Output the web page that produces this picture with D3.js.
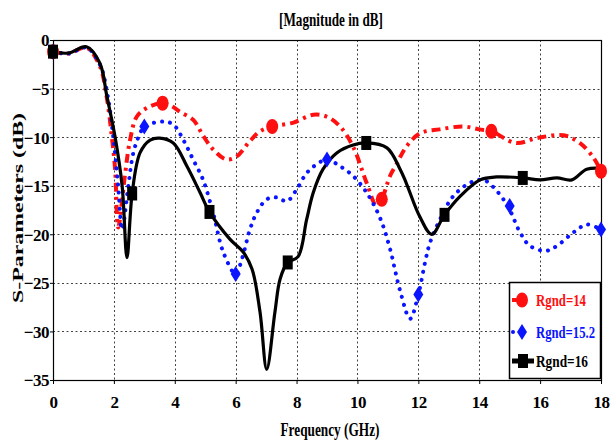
<!DOCTYPE html>
<html>
<head>
<meta charset="utf-8">
<script src="https://cdn.jsdelivr.net/npm/d3@7"></script>
<style>
  html, body { margin: 0; padding: 0; background: #fff; }
  svg { display: block; }
  text { font-family: "Liberation Serif", "Times New Roman", serif; font-weight: bold; }
</style>
</head>
<body>
<svg id="chart" width="613" height="445"></svg>
<script>
// Axis ticks
const xTicks = [0, 2, 4, 6, 8, 10, 12, 14, 16, 18];
const yTicks = [0, -5, -10, -15, -20, -25, -30, -35];

// Rgnd = 14 (red, dash-dot)
const redFreq = [0, 0.5, 1.1, 1.54, 1.76, 1.93, 2.04, 2.14, 2.36, 2.53, 2.75, 3.08, 3.6, 3.95, 4.17, 4.6, 4.94, 5.27, 5.7, 6.03, 6.47, 6.8, 7.2, 7.9, 8.55, 9.0, 9.43, 9.86, 10.3, 10.63, 10.8, 11.07, 11.3, 11.6, 12.06, 12.7, 13.47, 14.0, 14.4, 15.2, 15.9, 16.76, 17.3, 17.75, 18];
const redDb = [-1.2, -1.4, -0.8, -2.7, -5.8, -9.9, -13.3, -19.3, -14, -10.3, -7.9, -7, -6.5, -6.9, -7.4, -8.2, -9.9, -11.3, -12.3, -12, -10.4, -9.4, -8.9, -8.5, -7.7, -7.9, -8.9, -11, -14.7, -17.1, -16.4, -14, -12.7, -11, -9.6, -9.2, -8.9, -9.2, -9.4, -10.6, -10.1, -9.8, -10.6, -12.1, -13.5];
const redMarkFreq = [0, 3.6, 7.2, 10.8, 14.4, 18];
const redMarkDb = [-1.2, -6.5, -8.9, -16.4, -9.4, -13.5];

// Rgnd = 15.2 (blue, dotted)
const blueFreq = [0, 0.5, 1.1, 1.55, 1.8, 1.98, 2.14, 2.27, 2.47, 2.64, 2.86, 3.0, 3.62, 3.95, 4.3, 4.6, 4.93, 5.26, 5.6, 6.0, 6.2, 6.47, 6.69, 7.02, 7.35, 7.68, 8.0, 8.33, 8.66, 9.0, 9.43, 9.86, 10.3, 10.74, 11.07, 11.4, 11.73, 12.0, 12.22, 12.38, 12.77, 13.14, 13.7, 14.13, 14.45, 14.94, 15.34, 15.67, 16.2, 16.55, 17.1, 17.53, 18];
const blueDb = [-1.2, -1.4, -0.8, -2.6, -5.8, -10, -15, -19.5, -15.1, -11.6, -9.6, -8.9, -8.4, -8.7, -10.4, -12.3, -14.4, -17.8, -21.9, -24.1, -22.6, -19.5, -17.8, -16.4, -16.2, -16.6, -15.4, -13.7, -12.8, -12.3, -13, -14, -15.7, -18.3, -21.5, -25.8, -28.7, -26.2, -22.9, -20.9, -18.1, -16.1, -14.7, -14.4, -15.1, -17.1, -19.8, -21.2, -21.7, -21.2, -19.8, -19, -19.5];
const blueMarkFreq = [0, 3, 6, 9, 12, 15, 18];
const blueMarkDb = [-1.2, -8.9, -24.1, -12.3, -26.2, -17.1, -19.5];

// Rgnd = 16 (black, solid)
const blackFreq = [0, 0.5, 1.1, 1.54, 1.77, 2.04, 2.27, 2.43, 2.6, 2.86, 3.19, 3.5, 3.95, 4.4, 4.83, 5.14, 5.81, 6.24, 6.54, 6.8, 7.02, 7.29, 7.46, 7.71, 8.05, 8.33, 8.55, 8.87, 9.33, 9.86, 10.29, 10.97, 11.4, 11.6, 12.05, 12.44, 12.86, 13.37, 14.03, 14.57, 15.43, 16, 16.55, 17.04, 17.53, 18];
const blackDb = [-1.2, -1.35, -0.7, -2.4, -5.8, -10, -15, -22.4, -15.8, -11.6, -10.3, -10.1, -10.6, -13, -15.7, -17.7, -20.5, -21.8, -23.6, -28, -33.9, -28, -24.6, -22.9, -22.3, -18.5, -15.7, -13.3, -11.6, -10.8, -10.6, -11.1, -13.3, -14.7, -18.2, -20, -18, -16.1, -14.4, -14.1, -14.2, -14.4, -14.2, -14.4, -13.3, -13.2];
const blackMarkFreq = [0, 2.6, 5.14, 7.71, 10.29, 12.86, 15.43];
const blackMarkDb = [-1.2, -15.8, -17.7, -22.9, -10.6, -18, -14.2];

const legendLabels = ["Rgnd=14", "Rgnd=15.2", "Rgnd=16"];

const svg = d3.select("#chart");
const plot = { left: 53, right: 601, top: 40, bottom: 380 };

const x = d3.scaleLinear().domain([0, 18]).range([plot.left, plot.right]);
const y = d3.scaleLinear().domain([-35, 0]).range([plot.bottom, plot.top]);

svg.append("rect").attr("width", 613).attr("height", 445).attr("fill", "#fff");

// Tall, narrow bold serif text: fixed width, stretched vertically
function tallText(parent, tx, ty, str, size, width, sy, anchor, color) {
  return parent.append("text")
    .attr("transform", `translate(${tx},${ty}) scale(1,${sy})`)
    .attr("text-anchor", anchor || "start")
    .attr("font-size", size)
    .attr("fill", color || "#000")
    .attr("textLength", width).attr("lengthAdjust", "spacingAndGlyphs")
    .text(str);
}

// Title
tallText(svg, 331, 26, "[Magnitude in dB]", 14, 104, 1.3, "middle");

// Grid
const grid = svg.append("g").attr("stroke", "#444").attr("stroke-width", 1).attr("stroke-dasharray", "2,2.5");
grid.selectAll(".gx").data(xTicks.slice(1, -1)).join("line")
  .attr("x1", d => Math.round(x(d)) + 0.5).attr("x2", d => Math.round(x(d)) + 0.5)
  .attr("y1", plot.top).attr("y2", plot.bottom);
grid.selectAll(".gy").data(yTicks.slice(1, -1)).join("line")
  .attr("y1", d => Math.round(y(d)) + 0.5).attr("y2", d => Math.round(y(d)) + 0.5)
  .attr("x1", plot.left).attr("x2", plot.right);

// Axes
const xAxis = d3.axisBottom(x).tickValues(xTicks).tickSizeInner(4).tickSizeOuter(0).tickPadding(12).tickFormat(d3.format("d"));
const yAxis = d3.axisLeft(y).tickValues(yTicks).tickSizeInner(3).tickSizeOuter(0).tickPadding(1).tickFormat(d => d === 0 ? "0" : d3.format("d")(d));

const gx = svg.append("g").attr("transform", `translate(0,${plot.bottom})`).call(xAxis);
const gy = svg.append("g").attr("transform", `translate(${plot.left},0)`).call(yAxis);
[gx, gy].forEach(g => {
  g.select(".domain").remove();
  g.selectAll("line").attr("stroke", "#000");
  g.selectAll("text")
    .attr("font-family", "'Liberation Serif', serif")
    .attr("font-weight", "bold")
    .attr("font-size", 17)
    .attr("letter-spacing", "-0.5")
    .attr("fill", "#000");
});
gy.selectAll("text").attr("dy", "0.35em");

// Frame
svg.append("rect")
  .attr("x", plot.left + 0.5).attr("y", plot.top + 0.5)
  .attr("width", plot.right - plot.left).attr("height", plot.bottom - plot.top)
  .attr("fill", "none").attr("stroke", "#000").attr("stroke-width", 1.2);

// Axis titles
tallText(svg, 330, 436, "Frequency (GHz)", 14, 99, 1.3, "middle");

svg.append("text")
  .attr("transform", "translate(23,208) rotate(-90)")
  .attr("text-anchor", "middle")
  .attr("font-family", "'DejaVu Serif', serif")
  .attr("font-size", 14)
  .attr("textLength", 190).attr("lengthAdjust", "spacingAndGlyphs")
  .text("S-Parameters (dB)");

// Curves
const line = d3.line().x(d => x(d[0])).y(d => y(d[1])).curve(d3.curveCatmullRom.alpha(0.5));
const zip = (a, b) => a.map((v, i) => [v, b[i]]);

const curves = svg.append("g").attr("fill", "none");

curves.append("path")
  .attr("d", line(zip(redFreq, redDb)))
  .attr("stroke", "#ff1010").attr("stroke-width", 4)
  .attr("stroke-dasharray", "9,5,3,5");

curves.append("path")
  .attr("d", line(zip(blueFreq, blueDb)))
  .attr("stroke", "#0a14ff").attr("stroke-width", 4)
  .attr("stroke-linecap", "round")
  .attr("stroke-dasharray", "0.1,8");

curves.append("path")
  .attr("d", line(zip(blackFreq, blackDb)))
  .attr("stroke", "#000").attr("stroke-width", 3.2);

// Markers
const diamond = (cx, cy, w, h) => `M${cx},${cy - h}L${cx + w},${cy}L${cx},${cy + h}L${cx - w},${cy}Z`;

svg.append("g").selectAll("ellipse").data(zip(redMarkFreq, redMarkDb)).join("ellipse")
  .attr("cx", d => x(d[0])).attr("cy", d => y(d[1]))
  .attr("rx", 6).attr("ry", 7.5).attr("fill", "#ff1010");

svg.append("g").selectAll("path").data(zip(blueMarkFreq, blueMarkDb)).join("path")
  .attr("d", d => diamond(x(d[0]), y(d[1]), 5, 8))
  .attr("fill", "#0a14ff");

svg.append("g").selectAll("rect").data(zip(blackMarkFreq, blackMarkDb)).join("rect")
  .attr("x", d => x(d[0]) - 5).attr("y", d => y(d[1]) - 7)
  .attr("width", 10).attr("height", 14).attr("fill", "#000");

// Legend
const lg = svg.append("g");
lg.append("rect")
  .attr("x", 509.5).attr("y", 282.5).attr("width", 91).attr("height", 96)
  .attr("fill", "#fff").attr("stroke", "#000").attr("stroke-width", 1.5);

const legendY = [300, 332, 361];
const legendColor = ["#ff1010", "#0a14ff", "#000"];
const legendWidth = [50, 59, 52];

// red sample: dash stub with round marker
lg.append("line").attr("x1", 512).attr("x2", 522).attr("y1", legendY[0]).attr("y2", legendY[0])
  .attr("stroke", legendColor[0]).attr("stroke-width", 4);
lg.append("ellipse").attr("cx", 522).attr("cy", legendY[0]).attr("rx", 6).attr("ry", 7.5).attr("fill", legendColor[0]);

// blue sample: dot plus diamond
lg.append("circle").attr("cx", 513).attr("cy", legendY[1]).attr("r", 2).attr("fill", legendColor[1]);
lg.append("path").attr("d", diamond(522, legendY[1], 5, 8)).attr("fill", legendColor[1]);

// black sample: line plus square marker
lg.append("line").attr("x1", 512).attr("x2", 534).attr("y1", legendY[2]).attr("y2", legendY[2])
  .attr("stroke", legendColor[2]).attr("stroke-width", 5);
lg.append("rect").attr("x", 518).attr("y", legendY[2] - 7).attr("width", 10).attr("height", 14).attr("fill", legendColor[2]);

legendLabels.forEach((d, i) => {
  tallText(lg, 536, legendY[i] + 6, d, 14, legendWidth[i], 1.25, "start", legendColor[i]);
});
</script>
</body>
</html>
